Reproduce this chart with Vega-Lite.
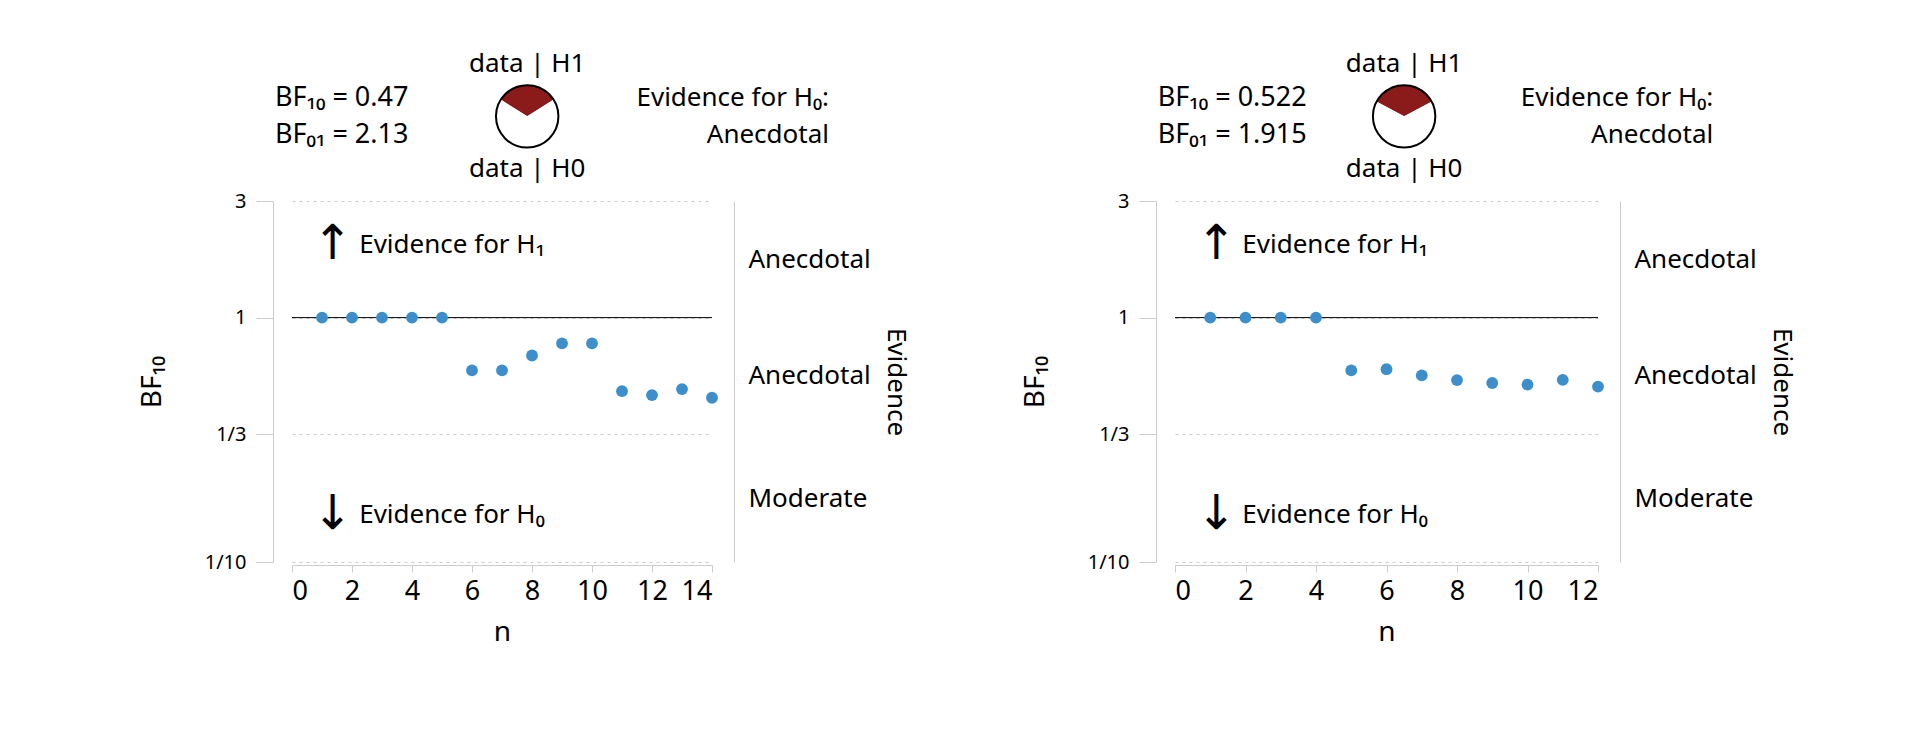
{
  "$schema": "https://vega.github.io/schema/vega-lite/v6.json",
  "background": "white",
  "padding": {"left": 138, "top": 50, "right": 10, "bottom": 10},
  "spacing": 112,
  "config": {
    "font": "Noto Sans",
    "view": {"stroke": null},
    "axis": {"labelFont": "Noto Sans", "titleFont": "Noto Sans", "labelColor": "black", "titleColor": "black", "titleFontWeight": "normal", "domainColor": "#cccccc", "tickColor": "#cccccc"},
    "text": {"font": "Noto Sans", "fontSize": 27, "color": "black"}
  },
  "hconcat": [
    {
      "width": 420,
      "height": 361,
      "layer": [
        {
          "data": {"values": [{"bf": 1}]},
          "mark": {"type": "rule", "color": "black", "strokeWidth": 1},
          "encoding": {"y": {"field": "bf", "type": "quantitative", "scale": {"type": "log", "domain": [0.1, 3]}, "axis": null}}
        },
        {
          "data": {"values": [
            {"n": 1, "bf": 1}, {"n": 2, "bf": 1}, {"n": 3, "bf": 1}, {"n": 4, "bf": 1}, {"n": 5, "bf": 1},
            {"n": 6, "bf": 0.608}, {"n": 7, "bf": 0.608}, {"n": 8, "bf": 0.70}, {"n": 9, "bf": 0.784}, {"n": 10, "bf": 0.784},
            {"n": 11, "bf": 0.50}, {"n": 12, "bf": 0.482}, {"n": 13, "bf": 0.51}, {"n": 14, "bf": 0.47}
          ]},
          "mark": {"type": "circle", "size": 140, "color": "#3d8fcc", "opacity": 1},
          "encoding": {
            "x": {"field": "n", "type": "quantitative", "scale": {"domain": [0, 14], "nice": false},
              "axis": {"values": [0, 2, 4, 6, 8, 10, 12, 14], "title": "n", "labelFontSize": 27, "titleFontSize": 28, "grid": false, "offset": 3, "tickSize": 7, "labelPadding": 6, "titlePadding": 14}},
            "y": {"field": "bf", "type": "quantitative", "scale": {"type": "log", "domain": [0.1, 3]},
              "axis": {"values": [0.1, 0.33333, 1, 3], "labelExpr": "datum.value < 0.2 ? '1/10' : datum.value < 0.5 ? '1/3' : datum.value < 2 ? '1' : '3'", "title": "BF₁₀", "labelFontSize": 20, "titleFontSize": 28, "offset": 19, "tickSize": 17, "labelPadding": 10, "titlePadding": 38, "grid": true, "gridDash": [3, 4], "gridColor": "#cccccc", "gridWidth": 1}}
          }
        },
        {
          "data": {"values": [{"bf": 1.732}, {"bf": 0.577}, {"bf": 0.1826}]},
          "mark": {"type": "point", "opacity": 0},
          "encoding": {
            "y": {"field": "bf", "type": "quantitative", "scale": {"type": "log", "domain": [0.1, 3]},
              "axis": {"orient": "right", "values": [1.732, 0.577, 0.1826], "labelExpr": "datum.value < 0.3 ? 'Moderate' : 'Anecdotal'", "title": "Evidence", "titleAngle": 90, "labelFontSize": 26, "titleFontSize": 26, "offset": 22, "ticks": false, "labelPadding": 14, "titlePadding": 12}}
          }
        },
        {
          "data": {"values": [{"n": -0.57, "bf": 7.9, "t": "BF₁₀ = 0.47"}, {"n": -0.57, "bf": 5.6, "t": "BF₀₁ = 2.13"}]},
          "mark": {"type": "text", "align": "left", "baseline": "middle"},
          "encoding": {"x": {"field": "n", "type": "quantitative"}, "y": {"field": "bf", "type": "quantitative", "scale": {"type": "log", "domain": [0.1, 3]}, "axis": null}, "text": {"field": "t"}}
        },
        {
          "data": {"values": [{"n": 17.9, "bf": 7.9, "t": "Evidence for H₀:"}, {"n": 17.9, "bf": 5.6, "t": "Anecdotal"}]},
          "mark": {"type": "text", "align": "right", "baseline": "middle", "fontSize": 26},
          "encoding": {"x": {"field": "n", "type": "quantitative"}, "y": {"field": "bf", "type": "quantitative", "scale": {"type": "log", "domain": [0.1, 3]}, "axis": null}, "text": {"field": "t"}}
        },
        {
          "data": {"values": [{"n": 7.84, "bf": 10.95, "t": "data | H1"}, {"n": 7.84, "bf": 4.05, "t": "data | H0"}]},
          "mark": {"type": "text", "align": "center", "baseline": "middle", "fontSize": 26},
          "encoding": {"x": {"field": "n", "type": "quantitative"}, "y": {"field": "bf", "type": "quantitative", "scale": {"type": "log", "domain": [0.1, 3]}, "axis": null}, "text": {"field": "t"}}
        },
        {
          "data": {"values": [{"n": 2.24, "bf": 1.98, "t": "Evidence for H₁"}, {"n": 2.24, "bf": 0.155, "t": "Evidence for H₀"}]},
          "mark": {"type": "text", "align": "left", "baseline": "middle", "fontSize": 26},
          "encoding": {"x": {"field": "n", "type": "quantitative"}, "y": {"field": "bf", "type": "quantitative", "scale": {"type": "log", "domain": [0.1, 3]}, "axis": null}, "text": {"field": "t"}}
        },
        {
          "data": {"values": [{"n": 1.35, "bf": 1.98, "t": "↑"}, {"n": 1.35, "bf": 0.155, "t": "↓"}]},
          "mark": {"type": "text", "align": "center", "baseline": "middle", "fontSize": 48, "font": "DejaVu Sans"},
          "encoding": {"x": {"field": "n", "type": "quantitative"}, "y": {"field": "bf", "type": "quantitative", "scale": {"type": "log", "domain": [0.1, 3]}, "axis": null}, "text": {"field": "t"}}
        },
        {
          "data": {"values": [{"n": 7.84, "bf": 6.66, "part": "H1", "v": 0.47}, {"n": 7.84, "bf": 6.66, "part": "H0", "v": 1}]},
          "mark": {"type": "arc", "radius": 31},
          "encoding": {
            "x": {"field": "n", "type": "quantitative"},
            "y": {"field": "bf", "type": "quantitative", "scale": {"type": "log", "domain": [0.1, 3]}, "axis": null},
            "theta": {"field": "v", "type": "quantitative", "stack": true, "scale": {"range": [-1.0044, 5.2788]}},
            "color": {"field": "part", "type": "nominal", "scale": {"domain": ["H1", "H0"], "range": ["#8b1a1a", "white"]}, "legend": null},
            "order": {"field": "part", "sort": "descending"}
          }
        },
        {
          "data": {"values": [{"n": 7.84, "bf": 6.66}]},
          "mark": {"type": "point", "shape": "circle", "size": 3900, "filled": false, "color": "black", "strokeWidth": 2, "opacity": 1},
          "encoding": {"x": {"field": "n", "type": "quantitative"}, "y": {"field": "bf", "type": "quantitative", "scale": {"type": "log", "domain": [0.1, 3]}, "axis": null}}
        }
      ],
      "resolve": {"scale": {"y": "independent", "color": "independent", "theta": "independent"}}
    },
    {
      "width": 423,
      "height": 361,
      "layer": [
        {
          "data": {"values": [{"bf": 1}]},
          "mark": {"type": "rule", "color": "black", "strokeWidth": 1},
          "encoding": {"y": {"field": "bf", "type": "quantitative", "scale": {"type": "log", "domain": [0.1, 3]}, "axis": null}}
        },
        {
          "data": {"values": [
            {"n": 1, "bf": 1}, {"n": 2, "bf": 1}, {"n": 3, "bf": 1}, {"n": 4, "bf": 1},
            {"n": 5, "bf": 0.608}, {"n": 6, "bf": 0.615}, {"n": 7, "bf": 0.58}, {"n": 8, "bf": 0.555},
            {"n": 9, "bf": 0.54}, {"n": 10, "bf": 0.532}, {"n": 11, "bf": 0.556}, {"n": 12, "bf": 0.522}
          ]},
          "mark": {"type": "circle", "size": 140, "color": "#3d8fcc", "opacity": 1},
          "encoding": {
            "x": {"field": "n", "type": "quantitative", "scale": {"domain": [0, 12], "nice": false},
              "axis": {"values": [0, 2, 4, 6, 8, 10, 12], "title": "n", "labelFontSize": 27, "titleFontSize": 28, "grid": false, "offset": 3, "tickSize": 7, "labelPadding": 6, "titlePadding": 14}},
            "y": {"field": "bf", "type": "quantitative", "scale": {"type": "log", "domain": [0.1, 3]},
              "axis": {"values": [0.1, 0.33333, 1, 3], "labelExpr": "datum.value < 0.2 ? '1/10' : datum.value < 0.5 ? '1/3' : datum.value < 2 ? '1' : '3'", "title": "BF₁₀", "labelFontSize": 20, "titleFontSize": 28, "offset": 19, "tickSize": 17, "labelPadding": 10, "titlePadding": 38, "grid": true, "gridDash": [3, 4], "gridColor": "#cccccc", "gridWidth": 1}}
          }
        },
        {
          "data": {"values": [{"bf": 1.732}, {"bf": 0.577}, {"bf": 0.1826}]},
          "mark": {"type": "point", "opacity": 0},
          "encoding": {
            "y": {"field": "bf", "type": "quantitative", "scale": {"type": "log", "domain": [0.1, 3]},
              "axis": {"orient": "right", "values": [1.732, 0.577, 0.1826], "labelExpr": "datum.value < 0.3 ? 'Moderate' : 'Anecdotal'", "title": "Evidence", "titleAngle": 90, "labelFontSize": 26, "titleFontSize": 26, "offset": 22, "ticks": false, "labelPadding": 14, "titlePadding": 12}}
          }
        },
        {
          "data": {"values": [{"n": -0.49, "bf": 7.9, "t": "BF₁₀ = 0.522"}, {"n": -0.49, "bf": 5.6, "t": "BF₀₁ = 1.915"}]},
          "mark": {"type": "text", "align": "left", "baseline": "middle"},
          "encoding": {"x": {"field": "n", "type": "quantitative"}, "y": {"field": "bf", "type": "quantitative", "scale": {"type": "log", "domain": [0.1, 3]}, "axis": null}, "text": {"field": "t"}}
        },
        {
          "data": {"values": [{"n": 15.27, "bf": 7.9, "t": "Evidence for H₀:"}, {"n": 15.27, "bf": 5.6, "t": "Anecdotal"}]},
          "mark": {"type": "text", "align": "right", "baseline": "middle", "fontSize": 26},
          "encoding": {"x": {"field": "n", "type": "quantitative"}, "y": {"field": "bf", "type": "quantitative", "scale": {"type": "log", "domain": [0.1, 3]}, "axis": null}, "text": {"field": "t"}}
        },
        {
          "data": {"values": [{"n": 6.5, "bf": 10.95, "t": "data | H1"}, {"n": 6.5, "bf": 4.05, "t": "data | H0"}]},
          "mark": {"type": "text", "align": "center", "baseline": "middle", "fontSize": 26},
          "encoding": {"x": {"field": "n", "type": "quantitative"}, "y": {"field": "bf", "type": "quantitative", "scale": {"type": "log", "domain": [0.1, 3]}, "axis": null}, "text": {"field": "t"}}
        },
        {
          "data": {"values": [{"n": 1.91, "bf": 1.98, "t": "Evidence for H₁"}, {"n": 1.91, "bf": 0.155, "t": "Evidence for H₀"}]},
          "mark": {"type": "text", "align": "left", "baseline": "middle", "fontSize": 26},
          "encoding": {"x": {"field": "n", "type": "quantitative"}, "y": {"field": "bf", "type": "quantitative", "scale": {"type": "log", "domain": [0.1, 3]}, "axis": null}, "text": {"field": "t"}}
        },
        {
          "data": {"values": [{"n": 1.17, "bf": 1.98, "t": "↑"}, {"n": 1.17, "bf": 0.155, "t": "↓"}]},
          "mark": {"type": "text", "align": "center", "baseline": "middle", "fontSize": 48, "font": "DejaVu Sans"},
          "encoding": {"x": {"field": "n", "type": "quantitative"}, "y": {"field": "bf", "type": "quantitative", "scale": {"type": "log", "domain": [0.1, 3]}, "axis": null}, "text": {"field": "t"}}
        },
        {
          "data": {"values": [{"n": 6.5, "bf": 6.66, "part": "H1", "v": 0.522}, {"n": 6.5, "bf": 6.66, "part": "H0", "v": 1}]},
          "mark": {"type": "arc", "radius": 31},
          "encoding": {
            "x": {"field": "n", "type": "quantitative"},
            "y": {"field": "bf", "type": "quantitative", "scale": {"type": "log", "domain": [0.1, 3]}, "axis": null},
            "theta": {"field": "v", "type": "quantitative", "stack": true, "scale": {"range": [-1.0775, 5.2057]}},
            "color": {"field": "part", "type": "nominal", "scale": {"domain": ["H1", "H0"], "range": ["#8b1a1a", "white"]}, "legend": null},
            "order": {"field": "part", "sort": "descending"}
          }
        },
        {
          "data": {"values": [{"n": 6.5, "bf": 6.66}]},
          "mark": {"type": "point", "shape": "circle", "size": 3900, "filled": false, "color": "black", "strokeWidth": 2, "opacity": 1},
          "encoding": {"x": {"field": "n", "type": "quantitative"}, "y": {"field": "bf", "type": "quantitative", "scale": {"type": "log", "domain": [0.1, 3]}, "axis": null}}
        }
      ],
      "resolve": {"scale": {"y": "independent", "color": "independent", "theta": "independent"}}
    }
  ]
}
